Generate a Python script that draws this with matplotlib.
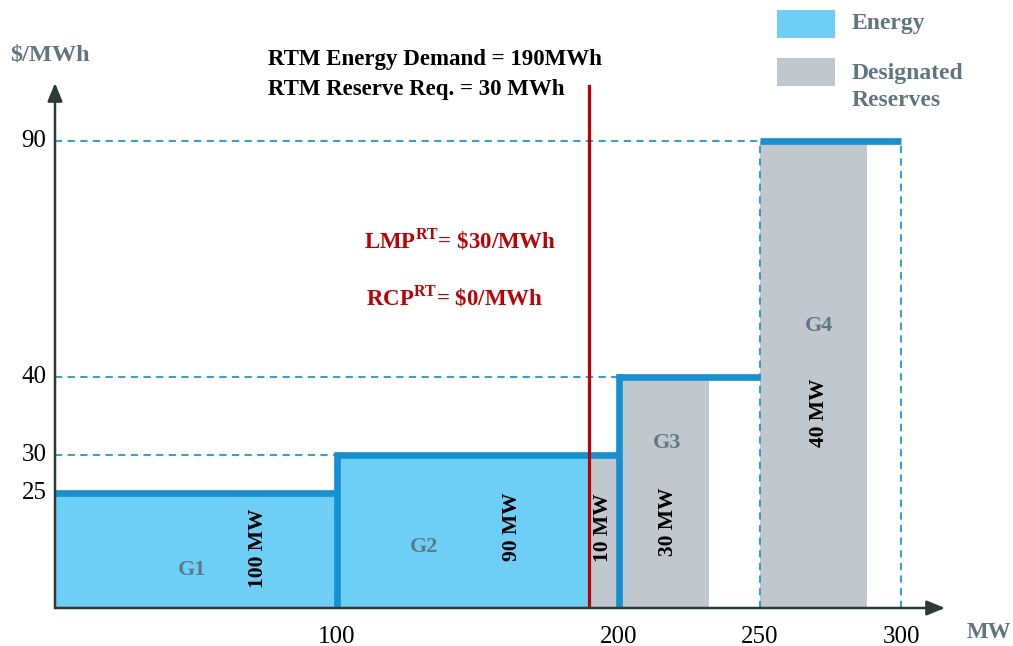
import numpy as np
import matplotlib
matplotlib.use("Agg")
import matplotlib.pyplot as plt
from matplotlib.patches import Rectangle

plt.rcParams['font.family'] = ['Liberation Serif', 'DejaVu Serif']
plt.rcParams['mathtext.fontset'] = 'custom'
plt.rcParams['mathtext.rm'] = 'Liberation Serif:bold'
plt.rcParams['mathtext.bf'] = 'Liberation Serif:bold'

# offer curve steps (MW start, MW end, price)
step_start = [0, 100, 200, 250]
step_end = [100, 200, 250, 300]
step_price = [25, 30, 40, 90]

# cleared energy blocks
energy_x0 = [0, 100]
energy_x1 = [100, 190]
energy_h = [25, 30]

# designated reserve blocks
res_x0 = [190, 200, 250]
res_x1 = [200, 232, 288]
res_h = [30, 40, 90]

gen_names = ['G1', 'G2', 'G3', 'G4']
gen_pos = [(48.6, 8.3), (131, 13.3), (217, 31.5), (271, 50.8)]
mw_labels = ['100 MW', '90 MW', '10 MW', '30 MW', '40 MW']
mw_pos = [(72, 13), (162, 17.6), (194.3, 17.4), (217.4, 18.7), (271, 35.4)]

demand = 190
yticks = [25, 30, 40, 90]
xticks = [100, 200, 250, 300]

# price axis in the picture is drawn out of proportion
y_val = [0, 25, 30, 40, 90, 120]
y_px = [0, 115, 153, 231, 467, 608.6]


def fwd(v):
    return np.interp(v, y_val, y_px)


def inv(p):
    return np.interp(p, y_px, y_val)


blue = '#6dcff6'
grey = '#c0c7cd'
line_blue = '#1591d2'
dash_blue = '#1a9ad6'
red = '#c00000'
slate = '#5f7580'
axis_col = '#2d3a3a'

W, H = 1013, 646
fig = plt.figure(figsize=(W / 100, H / 100), dpi=100)
ax = fig.add_axes([55 / W, (H - 608) / H, (945 - 55) / W, (608 - 83) / H])
ax.set_yscale('function', functions=(fwd, inv))
ax.set_xlim(0, 315.6)
ax.set_ylim(0, inv(525))
for s in ax.spines.values():
    s.set_visible(False)
ax.set_xticks([])
ax.set_yticks([])

# fills
for a, b, h in zip(energy_x0, energy_x1, energy_h):
    ax.fill_between([a, b], 0, h, color=blue, lw=0, zorder=1)
for a, b, h in zip(res_x0, res_x1, res_h):
    ax.fill_between([a, b], 0, h, color=grey, lw=0, zorder=1)

# dashed guides
for i in range(1, len(step_price)):
    ax.plot([0, step_start[i]], [step_price[i]] * 2, ls=(0, (4, 3)), color=dash_blue, lw=1.3, zorder=2)
for xv in [step_start[3], step_end[3]]:
    ax.plot([xv, xv], [0, step_price[3]], ls=(0, (4, 3)), color=dash_blue, lw=1.3, zorder=2)

# offer steps
for i in range(len(step_price)):
    ax.plot([step_start[i], step_end[i]], [step_price[i]] * 2, color=line_blue, lw=4.8,
            solid_capstyle='butt', zorder=3)
for i in [1, 2]:
    ax.plot([step_start[i], step_start[i]], [0, step_price[i]], color=line_blue, lw=4.8,
            solid_capstyle='projecting', zorder=3)

# demand line
ax.plot([demand - 0.8, demand - 0.8], [0, inv(522)], color=red, lw=2.3, zorder=4)

# axes arrows
arrow = dict(arrowstyle='-|>,head_length=1.1,head_width=0.45', color=axis_col, lw=1.8,
             shrinkA=0, shrinkB=0)
ax.annotate('', xy=(0, 1), xytext=(0, 0), xycoords='axes fraction', arrowprops=arrow, zorder=6)
ax.annotate('', xy=(1, 0), xytext=(0, 0), xycoords='axes fraction', arrowprops=arrow, zorder=6)

# tick labels
for v in yticks:
    ax.text(-3, v, str(v), ha='right', va='center', fontsize=18, color='black')
for v in xticks:
    ax.text(v, -29 / 525, str(v), ha='center', va='center', fontsize=18, color='black',
            transform=ax.get_xaxis_transform())

for name, (x, y) in zip(gen_names, gen_pos):
    ax.text(x, y, name, ha='center', va='center', fontsize=16, fontweight='bold', color='#5f7a87', zorder=5)
for lab, (x, y) in zip(mw_labels, mw_pos):
    ax.text(x, y, lab, ha='center', va='center', fontsize=15.5, fontweight='bold', color='black',
            rotation=90, zorder=5)

ax.text(143.6, 69, r'LMP$^{\mathrm{RT}}$= \$30/MWh', ha='center', va='center', fontsize=16.5,
        fontweight='bold', color=red)
ax.text(141.8, 57, r'RCP$^{\mathrm{RT}}$= \$0/MWh', ha='center', va='center', fontsize=16.5,
        fontweight='bold', color=red)

fig.text(50 / W, 1 - 55 / H, '$/MWh', ha='center', va='center', fontsize=17.5, fontweight='bold', color=slate)
fig.text(989 / W, 1 - 632 / H, 'MW', ha='center', va='center', fontsize=16.5, fontweight='bold', color=slate)
fig.text(268 / W, 1 - 60 / H, 'RTM Energy Demand = 190MWh', ha='left', va='center', fontsize=16.5,
         fontweight='bold', color='black')
fig.text(268 / W, 1 - 89 / H, 'RTM Reserve Req. = 30 MWh', ha='left', va='center', fontsize=16.5,
         fontweight='bold', color='black')

# legend
fig.add_artist(Rectangle((777 / W, 1 - 38 / H), 58 / W, 28 / H, transform=fig.transFigure, color=blue, lw=0))
fig.add_artist(Rectangle((777 / W, 1 - 86 / H), 58 / W, 28 / H, transform=fig.transFigure, color=grey, lw=0))
fig.text(852 / W, 1 - 23 / H, 'Energy', ha='left', va='center', fontsize=17, fontweight='bold', color=slate)
fig.text(852 / W, 1 - 87 / H, 'Designated\nReserves', ha='left', va='center', fontsize=17,
         fontweight='bold', color=slate, linespacing=1.4)

fig.savefig('out.png', dpi=100)
